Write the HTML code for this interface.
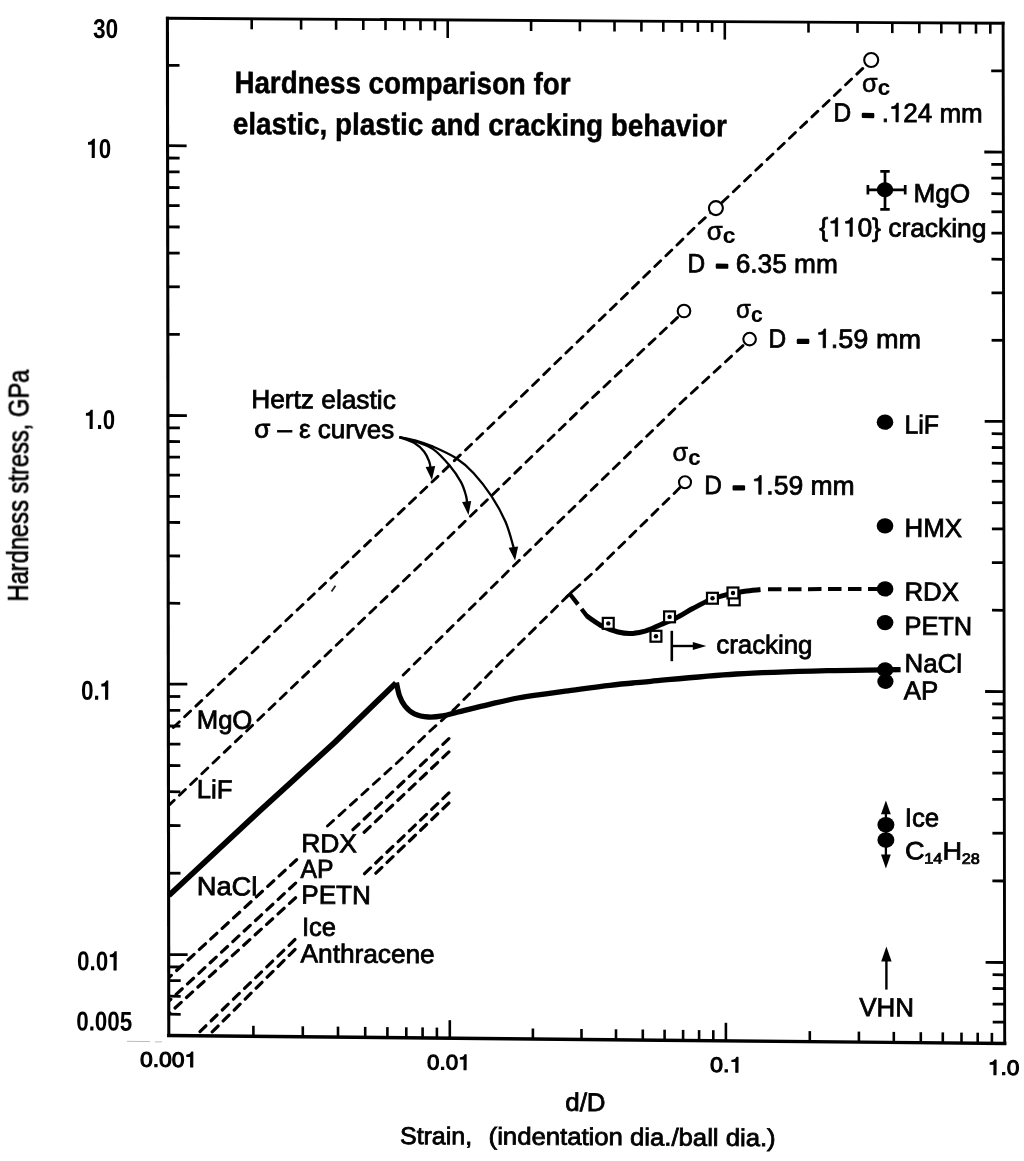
<!DOCTYPE html>
<html lang="en">
<head>
<meta charset="utf-8">
<title>Hardness comparison for elastic, plastic and cracking behavior</title>
<style>
html,body{margin:0;padding:0;background:#fff;}
body{width:1024px;height:1161px;overflow:hidden;font-family:"Liberation Sans",sans-serif;}
svg{display:block;}
</style>
</head>
<body>
<svg width="1024" height="1161" viewBox="0 0 1024 1161">
<defs><filter id="scan" x="0" y="0" width="1024" height="1161" filterUnits="userSpaceOnUse"><feGaussianBlur stdDeviation="0.62"/></filter></defs>
<rect width="1024" height="1161" fill="#fff"/>
<g filter="url(#scan)">
<g stroke="#000" fill="none" stroke-linecap="butt">
<g stroke-linecap="square">
<line x1="167.4" y1="18.3" x2="168.8" y2="1035.5" stroke-width="3.1" />
<line x1="168.8" y1="1035.5" x2="1004.7" y2="1043.5" stroke-width="3.4" />
<line x1="167.4" y1="18.3" x2="1003.1" y2="23.3" stroke-width="2.9" />
<line x1="1003.1" y1="23.3" x2="1004.7" y2="1043.5" stroke-width="2.9" />
</g>
<line x1="167.6" y1="145.7" x2="186.6" y2="145.8" stroke-width="2.8" />
<line x1="1003.3" y1="152.1" x2="984.3" y2="152.0" stroke-width="2.8" />
<line x1="167.5" y1="65.3" x2="179.5" y2="65.4" stroke-width="2.8" />
<line x1="1003.2" y1="70.9" x2="991.2" y2="70.8" stroke-width="2.8" />
<line x1="167.9" y1="415.5" x2="186.9" y2="415.6" stroke-width="2.8" />
<line x1="1003.7" y1="421.4" x2="984.7" y2="421.3" stroke-width="2.8" />
<line x1="167.8" y1="334.3" x2="179.8" y2="334.4" stroke-width="2.8" />
<line x1="1003.6" y1="340.3" x2="991.6" y2="340.3" stroke-width="2.8" />
<line x1="167.8" y1="286.8" x2="179.8" y2="286.8" stroke-width="2.8" />
<line x1="1003.5" y1="292.9" x2="991.5" y2="292.8" stroke-width="2.8" />
<line x1="167.7" y1="253.1" x2="179.7" y2="253.1" stroke-width="2.8" />
<line x1="1003.5" y1="259.3" x2="991.5" y2="259.2" stroke-width="2.8" />
<line x1="167.7" y1="226.9" x2="179.7" y2="227.0" stroke-width="2.8" />
<line x1="1003.4" y1="233.2" x2="991.4" y2="233.1" stroke-width="2.8" />
<line x1="167.6" y1="205.6" x2="179.6" y2="205.6" stroke-width="2.8" />
<line x1="1003.4" y1="211.8" x2="991.4" y2="211.8" stroke-width="2.8" />
<line x1="167.6" y1="187.5" x2="179.6" y2="187.6" stroke-width="2.8" />
<line x1="1003.4" y1="193.8" x2="991.4" y2="193.7" stroke-width="2.8" />
<line x1="167.6" y1="171.8" x2="179.6" y2="171.9" stroke-width="2.8" />
<line x1="1003.3" y1="178.2" x2="991.3" y2="178.1" stroke-width="2.8" />
<line x1="167.6" y1="158.0" x2="179.6" y2="158.1" stroke-width="2.8" />
<line x1="1003.3" y1="164.4" x2="991.3" y2="164.4" stroke-width="2.8" />
<line x1="168.3" y1="684.1" x2="187.3" y2="684.2" stroke-width="2.8" />
<line x1="1004.1" y1="691.6" x2="985.1" y2="691.5" stroke-width="2.8" />
<line x1="168.2" y1="603.2" x2="180.2" y2="603.3" stroke-width="2.8" />
<line x1="1004.0" y1="610.3" x2="992.0" y2="610.2" stroke-width="2.8" />
<line x1="168.1" y1="555.9" x2="180.1" y2="556.0" stroke-width="2.8" />
<line x1="1003.9" y1="562.7" x2="991.9" y2="562.6" stroke-width="2.8" />
<line x1="168.1" y1="522.4" x2="180.1" y2="522.5" stroke-width="2.8" />
<line x1="1003.9" y1="528.9" x2="991.9" y2="528.9" stroke-width="2.8" />
<line x1="168.0" y1="496.4" x2="180.0" y2="496.4" stroke-width="2.8" />
<line x1="1003.9" y1="502.7" x2="991.9" y2="502.7" stroke-width="2.8" />
<line x1="168.0" y1="475.1" x2="180.0" y2="475.2" stroke-width="2.8" />
<line x1="1003.8" y1="481.3" x2="991.8" y2="481.3" stroke-width="2.8" />
<line x1="168.0" y1="457.1" x2="180.0" y2="457.2" stroke-width="2.8" />
<line x1="1003.8" y1="463.3" x2="991.8" y2="463.2" stroke-width="2.8" />
<line x1="168.0" y1="441.5" x2="180.0" y2="441.6" stroke-width="2.8" />
<line x1="1003.8" y1="447.6" x2="991.8" y2="447.5" stroke-width="2.8" />
<line x1="167.9" y1="427.8" x2="179.9" y2="427.9" stroke-width="2.8" />
<line x1="1003.7" y1="433.8" x2="991.7" y2="433.7" stroke-width="2.8" />
<line x1="168.6" y1="954.6" x2="187.6" y2="954.7" stroke-width="2.8" />
<line x1="1004.6" y1="962.5" x2="985.6" y2="962.4" stroke-width="2.8" />
<line x1="168.5" y1="873.2" x2="180.5" y2="873.2" stroke-width="2.8" />
<line x1="1004.4" y1="881.0" x2="992.4" y2="880.9" stroke-width="2.8" />
<line x1="168.5" y1="825.5" x2="180.5" y2="825.6" stroke-width="2.8" />
<line x1="1004.4" y1="833.2" x2="992.4" y2="833.2" stroke-width="2.8" />
<line x1="168.4" y1="791.7" x2="180.4" y2="791.8" stroke-width="2.8" />
<line x1="1004.3" y1="799.4" x2="992.3" y2="799.3" stroke-width="2.8" />
<line x1="168.4" y1="765.5" x2="180.4" y2="765.6" stroke-width="2.8" />
<line x1="1004.3" y1="773.1" x2="992.3" y2="773.1" stroke-width="2.8" />
<line x1="168.4" y1="744.1" x2="180.4" y2="744.2" stroke-width="2.8" />
<line x1="1004.2" y1="751.7" x2="992.2" y2="751.6" stroke-width="2.8" />
<line x1="168.3" y1="726.0" x2="180.3" y2="726.1" stroke-width="2.8" />
<line x1="1004.2" y1="733.6" x2="992.2" y2="733.5" stroke-width="2.8" />
<line x1="168.3" y1="710.3" x2="180.3" y2="710.4" stroke-width="2.8" />
<line x1="1004.2" y1="717.9" x2="992.2" y2="717.8" stroke-width="2.8" />
<line x1="168.3" y1="696.5" x2="180.3" y2="696.5" stroke-width="2.8" />
<line x1="1004.2" y1="704.0" x2="992.2" y2="703.9" stroke-width="2.8" />
<line x1="168.7" y1="1014.2" x2="180.7" y2="1014.3" stroke-width="2.8" />
<line x1="1004.7" y1="1022.2" x2="992.7" y2="1022.1" stroke-width="2.8" />
<line x1="168.7" y1="996.2" x2="180.7" y2="996.3" stroke-width="2.8" />
<line x1="1004.6" y1="1004.2" x2="992.6" y2="1004.1" stroke-width="2.8" />
<line x1="168.7" y1="980.6" x2="180.7" y2="980.7" stroke-width="2.8" />
<line x1="1004.6" y1="988.6" x2="992.6" y2="988.5" stroke-width="2.8" />
<line x1="168.7" y1="966.9" x2="180.7" y2="967.0" stroke-width="2.8" />
<line x1="1004.6" y1="974.8" x2="992.6" y2="974.7" stroke-width="2.8" />
<line x1="251.7" y1="18.8" x2="251.7" y2="29.3" stroke-width="2.6" />
<line x1="253.4" y1="1036.3" x2="253.4" y2="1025.8" stroke-width="2.6" />
<line x1="301.1" y1="19.1" x2="301.1" y2="29.6" stroke-width="2.6" />
<line x1="302.8" y1="1036.8" x2="302.8" y2="1026.3" stroke-width="2.6" />
<line x1="336.1" y1="19.3" x2="336.1" y2="29.8" stroke-width="2.6" />
<line x1="338.0" y1="1037.1" x2="338.0" y2="1026.6" stroke-width="2.6" />
<line x1="363.3" y1="19.5" x2="363.3" y2="30.0" stroke-width="2.6" />
<line x1="365.2" y1="1037.4" x2="365.2" y2="1026.9" stroke-width="2.6" />
<line x1="385.5" y1="19.6" x2="385.5" y2="30.1" stroke-width="2.6" />
<line x1="387.4" y1="1037.6" x2="387.4" y2="1027.1" stroke-width="2.6" />
<line x1="404.3" y1="19.7" x2="404.3" y2="30.2" stroke-width="2.6" />
<line x1="406.3" y1="1037.8" x2="406.3" y2="1027.3" stroke-width="2.6" />
<line x1="420.5" y1="19.8" x2="420.5" y2="30.3" stroke-width="2.6" />
<line x1="422.6" y1="1037.9" x2="422.6" y2="1027.4" stroke-width="2.6" />
<line x1="434.9" y1="19.9" x2="434.9" y2="30.4" stroke-width="2.6" />
<line x1="436.9" y1="1038.1" x2="436.9" y2="1027.6" stroke-width="2.6" />
<line x1="447.7" y1="20.0" x2="447.7" y2="38.0" stroke-width="2.6" />
<line x1="449.8" y1="1038.2" x2="449.8" y2="1020.2" stroke-width="2.6" />
<line x1="531.1" y1="20.5" x2="531.1" y2="31.0" stroke-width="2.6" />
<line x1="532.9" y1="1039.0" x2="532.9" y2="1028.5" stroke-width="2.6" />
<line x1="579.9" y1="20.8" x2="579.9" y2="31.3" stroke-width="2.6" />
<line x1="581.5" y1="1039.5" x2="581.5" y2="1029.0" stroke-width="2.6" />
<line x1="614.5" y1="21.0" x2="614.5" y2="31.5" stroke-width="2.6" />
<line x1="616.0" y1="1039.8" x2="616.0" y2="1029.3" stroke-width="2.6" />
<line x1="641.4" y1="21.1" x2="641.4" y2="31.6" stroke-width="2.6" />
<line x1="642.8" y1="1040.0" x2="642.8" y2="1029.5" stroke-width="2.6" />
<line x1="663.3" y1="21.3" x2="663.3" y2="31.8" stroke-width="2.6" />
<line x1="664.6" y1="1040.2" x2="664.6" y2="1029.7" stroke-width="2.6" />
<line x1="681.9" y1="21.4" x2="681.9" y2="31.9" stroke-width="2.6" />
<line x1="683.1" y1="1040.4" x2="683.1" y2="1029.9" stroke-width="2.6" />
<line x1="697.9" y1="21.5" x2="697.9" y2="32.0" stroke-width="2.6" />
<line x1="699.1" y1="1040.6" x2="699.1" y2="1030.1" stroke-width="2.6" />
<line x1="712.1" y1="21.6" x2="712.1" y2="32.1" stroke-width="2.6" />
<line x1="713.3" y1="1040.7" x2="713.3" y2="1030.2" stroke-width="2.6" />
<line x1="724.8" y1="21.6" x2="724.8" y2="39.6" stroke-width="2.6" />
<line x1="725.9" y1="1040.8" x2="725.9" y2="1022.8" stroke-width="2.6" />
<line x1="808.5" y1="22.1" x2="808.5" y2="32.6" stroke-width="2.6" />
<line x1="809.8" y1="1041.6" x2="809.8" y2="1031.1" stroke-width="2.6" />
<line x1="857.5" y1="22.4" x2="857.5" y2="32.9" stroke-width="2.6" />
<line x1="858.9" y1="1042.1" x2="858.9" y2="1031.6" stroke-width="2.6" />
<line x1="892.3" y1="22.6" x2="892.3" y2="33.1" stroke-width="2.6" />
<line x1="893.8" y1="1042.4" x2="893.8" y2="1031.9" stroke-width="2.6" />
<line x1="919.3" y1="22.8" x2="919.3" y2="33.3" stroke-width="2.6" />
<line x1="920.8" y1="1042.7" x2="920.8" y2="1032.2" stroke-width="2.6" />
<line x1="941.3" y1="22.9" x2="941.3" y2="33.4" stroke-width="2.6" />
<line x1="942.8" y1="1042.9" x2="942.8" y2="1032.4" stroke-width="2.6" />
<line x1="959.9" y1="23.0" x2="959.9" y2="33.5" stroke-width="2.6" />
<line x1="961.5" y1="1043.1" x2="961.5" y2="1032.6" stroke-width="2.6" />
<line x1="976.0" y1="23.1" x2="976.0" y2="33.6" stroke-width="2.6" />
<line x1="977.7" y1="1043.2" x2="977.7" y2="1032.7" stroke-width="2.6" />
<line x1="990.3" y1="23.2" x2="990.3" y2="33.7" stroke-width="2.6" />
<line x1="991.9" y1="1043.4" x2="991.9" y2="1032.9" stroke-width="2.6" />
</g>
<clipPath id="plot"><path d="M167.4,18.3 L1003.1,23.3 L1004.7,1043.5 L168.75,1035.5 Z"/></clipPath>
<g stroke="#000" fill="none" stroke-width="2.75" stroke-dasharray="8.3 7.2" stroke-linecap="round" clip-path="url(#plot)">
<path d="M862.8,68.4 L722.5,202.0 L700.0,222.5 L517.6,400.0 L430.0,484.0 L300.1,607.2 L169.3,731.3" stroke-width="2.85" stroke-linejoin="round"/>
<path d="M677.6,317.4 L589.8,400.3 L430.0,555.5 L373.0,610.0 L169.3,804.9" stroke-width="2.85" stroke-linejoin="round"/>
<path d="M743.0,345.6 L683.6,400.3 L509.1,570.3 L430.0,648.4 L398.9,679.3" stroke-width="2.85" stroke-linejoin="round"/>
<path d="M680.0,487.6 L596.1,570.0 L569.7,594.0 L500.3,662.5 L454.6,708.9 L430.0,731.0 L400.3,759.8 L325.9,827.4" stroke-width="2.85" stroke-linejoin="round"/>
<path d="M296.6,859.7 L168.9,977.6" stroke-width="3.2" stroke-linejoin="round"/>
<path d="M448.9,738.6 L352.3,830.3" stroke-width="3.2" stroke-linejoin="round"/>
<path d="M295.6,883.1 L168.9,1001.2" stroke-width="3.2" stroke-linejoin="round"/>
<path d="M448.9,751.9 L362.1,834.2" stroke-width="3.2" stroke-linejoin="round"/>
<path d="M295.6,897.8 L168.9,1013.6" stroke-width="3.2" stroke-linejoin="round"/>
<path d="M448.9,792.9 L363.0,875.2" stroke-width="3.2" stroke-linejoin="round"/>
<path d="M295.0,939.5 L195.5,1035.9" stroke-width="3.2" stroke-linejoin="round"/>
<path d="M448.9,803.0 L373.8,875.2" stroke-width="3.2" stroke-linejoin="round"/>
<path d="M295.0,949.5 L208.2,1035.9" stroke-width="3.2" stroke-linejoin="round"/>
</g>
<g stroke="#000" fill="#fff" stroke-width="2.1">
<circle cx="871.2" cy="60.0" r="7.0"/>
<circle cx="715.9" cy="208.1" r="7.0"/>
<circle cx="684.0" cy="311.0" r="6.3"/>
<circle cx="749.6" cy="339.1" r="6.3"/>
<circle cx="685.0" cy="482.2" r="6.0"/>
</g>
<g stroke="#000" fill="none" stroke-linecap="butt" stroke-linejoin="miter">
<path d="M168.9,895.5 L260,810.6 L300,774.2 L335,742.1 L396,683.0" stroke-width="5.7" stroke-linejoin="round"/>
<path d="M396.4,682.6 C396.9,684.8 398.1,692.0 399.5,695.9 C400.9,699.8 402.5,703.1 405.0,706.1 C407.5,709.1 410.5,712.1 414.4,713.9 C418.3,715.7 423.7,716.7 428.4,717.0 C433.1,717.3 437.6,716.7 442.5,715.9 C447.4,715.1 450.3,713.9 458.1,712.0 C465.9,710.1 479.4,706.6 489.4,704.3 C499.4,702.0 509.5,699.6 517.9,698.0 C526.3,696.4 532.1,695.7 540.0,694.6 C547.9,693.5 553.7,692.8 565.4,691.2 C577.1,689.7 595.8,686.9 610.0,685.3 C624.2,683.6 629.9,683.2 650.9,681.3 C671.9,679.4 706.4,675.8 736.3,674.0 C766.1,672.2 802.6,671.3 830.0,670.6 C857.4,669.9 888.8,669.8 900.6,669.6" stroke-width="5.3"/>
<path d="M587.0,616.2 C589.7,617.9 597.8,624.0 603.0,626.6 C608.2,629.2 613.4,630.9 618.0,632.0 C622.6,633.1 626.2,633.7 630.9,633.5 C635.5,633.3 640.9,632.4 645.9,630.9 C650.9,629.4 656.0,626.6 661.0,624.5 C666.0,622.4 670.6,620.7 676.0,618.0 C681.4,615.3 687.5,611.3 693.2,608.3 C698.9,605.2 704.7,602.0 710.4,599.7 C716.1,597.4 721.9,595.8 727.6,594.4 C733.3,593.0 739.3,592.0 744.8,591.2 C750.3,590.4 757.9,589.9 760.5,589.6" stroke-width="5.0"/>
<path d="M569.9,594.0 L587.4,616.6" stroke-width="4.3" stroke-dasharray="13.2 5.8 30"/>
<path d="M565.6,597.9 L573.2,590.6" stroke-width="2.8"/>
<path d="M768,589.2 L878,589.0" stroke-width="4.0" stroke-dasharray="13.5 6.5"/>
</g>
<g stroke="#000" fill="#fff" stroke-width="2.2">
<rect x="728.8" y="594.4" width="10.9" height="10.9"/>
<rect x="602.8" y="617.9" width="10.9" height="10.9"/>
<rect x="664.1" y="611.4" width="10.9" height="10.9"/>
<rect x="650.5" y="630.8" width="10.9" height="10.9"/>
<rect x="707.0" y="592.8" width="10.9" height="10.9"/>
<rect x="727.5" y="587.5" width="10.9" height="10.9"/>
</g>
<g fill="#000">
<circle cx="608.3" cy="623.4" r="2.2"/>
<circle cx="669.6" cy="616.9" r="2.2"/>
<circle cx="656.0" cy="636.3" r="2.2"/>
<circle cx="712.5" cy="598.2" r="2.2"/>
<circle cx="733.0" cy="593.0" r="2.2"/>
</g>
<g fill="#000">
<ellipse cx="885.0" cy="189.8" rx="8.2" ry="7.5"/>
<ellipse cx="885.0" cy="422.2" rx="8.3" ry="7.6"/>
<ellipse cx="885.0" cy="525.9" rx="8.3" ry="7.6"/>
<ellipse cx="885.1" cy="588.9" rx="8.3" ry="7.6"/>
<ellipse cx="885.1" cy="622.6" rx="8.3" ry="7.6"/>
<ellipse cx="885.2" cy="669.7" rx="8.1" ry="7.4"/>
<ellipse cx="885.4" cy="681.6" rx="8.1" ry="7.4"/>
<ellipse cx="885.9" cy="824.8" rx="8.5" ry="7.8"/>
<ellipse cx="885.9" cy="840.0" rx="8.5" ry="7.8"/>
<path d="M885.9,800.6 L890.8,814.2 L881.0,814.2 Z"/>
<path d="M885.9,868.5 L890.8,854.6 L881.0,854.6 Z"/>
<path d="M886.4,946.6 L891.6,961.6 L881.2,961.6 Z"/>
<path d="M706.3,645.9 L692.8,641.9 L692.8,649.9 Z"/>
<path d="M431.9,480.0 L425.6,467.0 L435.2,466.0 Z"/>
<path d="M468.5,515.0 L462.1,502.1 L471.2,500.9 Z"/>
<path d="M515.1,560.6 L508.6,547.7 L518.1,546.5 Z"/>
</g>
<g stroke="#000" fill="none" stroke-width="1.9">
<path d="M885.9,812 L885.9,857" stroke-width="2.3"/>
<path d="M886.4,960 L886.4,989.6" stroke-width="2.4"/>
<path d="M671.8,630.8 L671.8,661.2" stroke-width="2.6"/>
<path d="M671.8,646 L694,646" stroke-width="2.4"/>
<path d="M867.9,189.8 L905.2,189.8 M867.9,185.0 L867.9,194.6 M905.2,185.0 L905.2,194.6" stroke-width="2.7"/>
<path d="M885.0,171.3 L885.0,209.3 M880.3,171.3 L889.7,171.3 M880.3,209.3 L889.7,209.3" stroke-width="2.7"/>
<path d="M399.4,437.1 C401.8,438.1 409.9,440.4 414.0,442.8 C418.1,445.2 421.6,448.5 424.2,451.7 C426.8,454.9 428.2,458.9 429.3,461.8 C430.4,464.7 430.4,467.8 430.6,469.0" stroke-width="2.3"/>
<path d="M399.4,437.1 C402.0,437.8 409.4,439.3 415.0,441.3 C420.6,443.3 427.3,445.1 433.1,449.1 C438.9,453.2 445.0,460.1 449.6,465.6 C454.2,471.1 458.2,477.0 461.0,482.1 C463.8,487.2 465.1,492.5 466.1,496.1 C467.1,499.8 467.0,502.7 467.2,504.0" stroke-width="2.3"/>
<path d="M399.4,437.1 C402.0,437.6 409.4,438.7 415.0,440.3 C420.6,441.9 426.3,443.7 433.1,446.6 C439.9,449.6 449.1,453.6 455.9,458.0 C462.7,462.4 467.8,466.8 473.7,473.2 C479.6,479.6 486.2,488.1 491.5,496.1 C496.8,504.2 501.8,513.2 505.4,521.5 C509.0,529.8 511.7,540.9 513.1,545.6 C514.5,550.4 513.7,549.3 513.8,550.0" stroke-width="2.3"/>
</g>
<path d="M331.5,591.5 L335.5,585.8" stroke="#222" stroke-width="1.8" fill="none"/>
<path d="M127,1041.3 L150,1041.6 M155,1042 L162,1041.8" stroke="#bbb" stroke-width="1" fill="none"/>
<g fill="#000" font-family="'Liberation Sans', sans-serif" style="white-space:pre">
<text x="234.4" y="92.9" font-size="30.8" font-weight="bold" textLength="336.1" lengthAdjust="spacingAndGlyphs" transform="rotate(0.26 234.4 92.9)" stroke="#000" stroke-width="0.5" >Hardness comparison for</text>
<text x="232.7" y="134.1" font-size="30.8" font-weight="bold" textLength="494.2" lengthAdjust="spacingAndGlyphs" transform="rotate(0.26 232.7 134.1)" stroke="#000" stroke-width="0.5" >elastic, plastic and cracking behavior</text>
<text x="93.0" y="38.0" font-size="27.2" font-weight="bold" textLength="25.2" lengthAdjust="spacingAndGlyphs" transform="rotate(0.35 93.0 38.0)" >30</text>
<g transform="rotate(0.35 86.4 158.0)">
<path d="M378,0 L238,0 L238,492 L69,492 L69,591 C190,593 262,640 282,709 L378,709 Z" transform="translate(86.40 158.0) scale(0.02221 -0.02720)"/>
<text x="98.75" y="158.0" font-size="27.2" font-weight="bold" textLength="12.35" lengthAdjust="spacingAndGlyphs">0</text>
</g>
<g transform="rotate(0.35 84.3 429.0)">
<path d="M378,0 L238,0 L238,492 L69,492 L69,591 C190,593 262,640 282,709 L378,709 Z" transform="translate(84.30 429.0) scale(0.02216 -0.02720)"/>
<text x="96.62" y="429.0" font-size="27.2" font-weight="bold" textLength="18.48" lengthAdjust="spacingAndGlyphs">.0</text>
</g>
<g transform="rotate(0.35 80.9 699.7)">
<text x="80.90" y="699.7" font-size="27.2" font-weight="bold" textLength="18.78" lengthAdjust="spacingAndGlyphs">0.</text>
<path d="M378,0 L238,0 L238,492 L69,492 L69,591 C190,593 262,640 282,709 L378,709 Z" transform="translate(99.68 699.7) scale(0.02252 -0.02720)"/>
</g>
<g transform="rotate(0.35 77.1 970.3)">
<text x="77.10" y="970.3" font-size="27.2" font-weight="bold" textLength="31.07" lengthAdjust="spacingAndGlyphs">0.0</text>
<path d="M378,0 L238,0 L238,492 L69,492 L69,591 C190,593 262,640 282,709 L378,709 Z" transform="translate(108.17 970.3) scale(0.02235 -0.02720)"/>
</g>
<text x="76.2" y="1030.4" font-size="27.2" font-weight="bold" textLength="56.0" lengthAdjust="spacingAndGlyphs" transform="rotate(0.35 76.2 1030.4)" >0.005</text>
<g transform="rotate(0.35 140.0 1066.7)">
<text x="140.00" y="1066.7" font-size="21" font-weight="normal" textLength="44.49" lengthAdjust="spacingAndGlyphs" stroke="#000" stroke-width="1.05">0.00</text>
<path d="M359,0 L271,0 L271,505 L101,505 L101,568 C200,572 285,620 301,709 L359,709 Z" transform="translate(184.49 1066.7) scale(0.02286 -0.02100)" stroke="#000" stroke-width="50" stroke-linejoin="round"/>
</g>
<g transform="rotate(0.35 427.1 1069.5)">
<text x="427.10" y="1069.5" font-size="21" font-weight="normal" textLength="30.93" lengthAdjust="spacingAndGlyphs" stroke="#000" stroke-width="1.05">0.0</text>
<path d="M359,0 L271,0 L271,505 L101,505 L101,568 C200,572 285,620 301,709 L359,709 Z" transform="translate(458.03 1069.5) scale(0.02225 -0.02100)" stroke="#000" stroke-width="50" stroke-linejoin="round"/>
</g>
<g transform="rotate(0.35 710.1 1072.0)">
<text x="710.10" y="1072.0" font-size="21" font-weight="normal" textLength="19.44" lengthAdjust="spacingAndGlyphs" stroke="#000" stroke-width="1.05">0.</text>
<path d="M359,0 L271,0 L271,505 L101,505 L101,568 C200,572 285,620 301,709 L359,709 Z" transform="translate(729.54 1072.0) scale(0.02331 -0.02100)" stroke="#000" stroke-width="50" stroke-linejoin="round"/>
</g>
<g transform="rotate(0.35 987.8 1074.8)">
<path d="M359,0 L271,0 L271,505 L101,505 L101,568 C200,572 285,620 301,709 L359,709 Z" transform="translate(987.80 1074.8) scale(0.02273 -0.02100)" stroke="#000" stroke-width="50" stroke-linejoin="round"/>
<text x="1000.44" y="1074.8" font-size="21" font-weight="normal" textLength="18.96" lengthAdjust="spacingAndGlyphs" stroke="#000" stroke-width="1.05">.0</text>
</g>
<text x="565.3" y="1110.8" font-size="25.5" font-weight="normal" textLength="40.2" lengthAdjust="spacingAndGlyphs" transform="rotate(0.35 565.3 1110.8)" stroke="#000" stroke-width="0.8" >d/D</text>
<text x="400.0" y="1144.0" font-size="24.3" font-weight="normal" textLength="72.1" lengthAdjust="spacingAndGlyphs" transform="rotate(0.35 400.0 1144.0)" stroke="#000" stroke-width="0.8" >Strain,</text>
<text x="488.6" y="1144.4" font-size="24.3" font-weight="normal" textLength="287.1" lengthAdjust="spacingAndGlyphs" transform="rotate(0.35 488.6 1144.4)" stroke="#000" stroke-width="0.8" >(indentation dia./ball dia.)</text>
<text x="0" y="0" font-size="29.5" textLength="232" lengthAdjust="spacingAndGlyphs" stroke="#000" stroke-width="0.7" transform="translate(27.9 601.6) rotate(-89.8)">Hardness stress, GPa</text>
<text x="251.2" y="407.9" font-size="26" font-weight="normal" textLength="144.6" lengthAdjust="spacingAndGlyphs" transform="rotate(0.35 251.2 407.9)" stroke="#000" stroke-width="0.8" >Hertz elastic</text>
<text x="254.3" y="437.6" font-size="26" font-weight="normal" textLength="139.9" lengthAdjust="spacingAndGlyphs" transform="rotate(0.35 254.3 437.6)" stroke="#000" stroke-width="0.8" >σ – ε curves</text>
<text x="196.8" y="728.5" font-size="26" font-weight="normal" textLength="55.5" lengthAdjust="spacingAndGlyphs" transform="rotate(0.35 196.8 728.5)" stroke="#000" stroke-width="0.8" >MgO</text>
<text x="196.8" y="798.1" font-size="26" font-weight="normal" textLength="35.6" lengthAdjust="spacingAndGlyphs" transform="rotate(0.35 196.8 798.1)" stroke="#000" stroke-width="0.8" >LiF</text>
<text x="196.8" y="895.0" font-size="26" font-weight="normal" textLength="60.5" lengthAdjust="spacingAndGlyphs" transform="rotate(0.35 196.8 895.0)" stroke="#000" stroke-width="0.8" >NaCl</text>
<text x="301.2" y="852.1" font-size="26" font-weight="normal" textLength="55.7" lengthAdjust="spacingAndGlyphs" transform="rotate(0.35 301.2 852.1)" stroke="#000" stroke-width="0.8" >RDX</text>
<text x="300.6" y="877.7" font-size="26" font-weight="normal" textLength="32.9" lengthAdjust="spacingAndGlyphs" transform="rotate(0.35 300.6 877.7)" stroke="#000" stroke-width="0.8" >AP</text>
<text x="301.3" y="903.6" font-size="26" font-weight="normal" textLength="69.4" lengthAdjust="spacingAndGlyphs" transform="rotate(0.35 301.3 903.6)" stroke="#000" stroke-width="0.8" >PETN</text>
<text x="302.0" y="935.7" font-size="26" font-weight="normal" textLength="33.9" lengthAdjust="spacingAndGlyphs" transform="rotate(0.35 302.0 935.7)" stroke="#000" stroke-width="0.8" >Ice</text>
<text x="300.6" y="962.3" font-size="26" font-weight="normal" textLength="134.1" lengthAdjust="spacingAndGlyphs" transform="rotate(0.35 300.6 962.3)" stroke="#000" stroke-width="0.8" >Anthracene</text>
<text x="904.5" y="433.5" font-size="26" font-weight="normal" textLength="34.5" lengthAdjust="spacingAndGlyphs" transform="rotate(0.35 904.5 433.5)" stroke="#000" stroke-width="0.8" >LiF</text>
<text x="904.5" y="536.7" font-size="26" font-weight="normal" textLength="57.4" lengthAdjust="spacingAndGlyphs" transform="rotate(0.35 904.5 536.7)" stroke="#000" stroke-width="0.8" >HMX</text>
<text x="904.5" y="600.5" font-size="26" font-weight="normal" textLength="54.3" lengthAdjust="spacingAndGlyphs" transform="rotate(0.35 904.5 600.5)" stroke="#000" stroke-width="0.8" >RDX</text>
<text x="904.5" y="634.7" font-size="26" font-weight="normal" textLength="67.5" lengthAdjust="spacingAndGlyphs" transform="rotate(0.35 904.5 634.7)" stroke="#000" stroke-width="0.8" >PETN</text>
<text x="904.5" y="672.1" font-size="26" font-weight="normal" textLength="57.4" lengthAdjust="spacingAndGlyphs" transform="rotate(0.35 904.5 672.1)" stroke="#000" stroke-width="0.8" >NaCl</text>
<text x="903.7" y="699.3" font-size="26" font-weight="normal" textLength="34.4" lengthAdjust="spacingAndGlyphs" transform="rotate(0.35 903.7 699.3)" stroke="#000" stroke-width="0.8" >AP</text>
<text x="904.8" y="826.4" font-size="26" font-weight="normal" textLength="34.2" lengthAdjust="spacingAndGlyphs" transform="rotate(0.35 904.8 826.4)" stroke="#000" stroke-width="0.8" >Ice</text>
<text x="859.3" y="1016.1" font-size="26" font-weight="normal" textLength="54.6" lengthAdjust="spacingAndGlyphs" transform="rotate(0.35 859.3 1016.1)" stroke="#000" stroke-width="0.8" >VHN</text>
<text x="716.3" y="653.2" font-size="26" font-weight="normal" textLength="96.2" lengthAdjust="spacingAndGlyphs" transform="rotate(0.35 716.3 653.2)" stroke="#000" stroke-width="0.8" >cracking</text>
<text x="913.4" y="202.1" font-size="26" font-weight="normal" textLength="56.6" lengthAdjust="spacingAndGlyphs" transform="rotate(0.35 913.4 202.1)" stroke="#000" stroke-width="0.8" >MgO</text>
<g transform="rotate(0.35 819.3 236.1)">
<text x="819.30" y="236.1" font-size="26" font-weight="normal" textLength="8.81" lengthAdjust="spacingAndGlyphs" stroke="#000" stroke-width="0.8">{</text>
<path d="M359,0 L271,0 L271,505 L101,505 L101,568 C200,572 285,620 301,709 L359,709 Z" transform="translate(828.11 236.1) scale(0.02637 -0.02600)" stroke="#000" stroke-width="31" stroke-linejoin="round"/>
<path d="M359,0 L271,0 L271,505 L101,505 L101,568 C200,572 285,620 301,709 L359,709 Z" transform="translate(842.78 236.1) scale(0.02637 -0.02600)" stroke="#000" stroke-width="31" stroke-linejoin="round"/>
<text x="857.44" y="236.1" font-size="26" font-weight="normal" textLength="129.01" lengthAdjust="spacingAndGlyphs" stroke="#000" stroke-width="0.8">0} cracking</text>
</g>
<text x="904.9" y="859.2" font-size="25" textLength="75.0" lengthAdjust="spacingAndGlyphs" stroke="#000" stroke-width="0.8" transform="rotate(0.35 904.9 859.2)">C<tspan font-size="15" dy="4.2" stroke-width="0.8">14</tspan><tspan dy="-4.2">H</tspan><tspan font-size="15" dy="4.2" stroke-width="0.8">28</tspan></text>
<text x="862.1" y="91.6" font-size="25.5" textLength="28.0" lengthAdjust="spacingAndGlyphs" stroke="#000" stroke-width="0.6">σ<tspan font-size="22.5" dy="3.6" font-weight="bold" stroke-width="0.15">c</tspan></text>
<text x="706.8" y="239.8" font-size="25.5" textLength="28.7" lengthAdjust="spacingAndGlyphs" stroke="#000" stroke-width="0.6">σ<tspan font-size="22.5" dy="3.6" font-weight="bold" stroke-width="0.15">c</tspan></text>
<text x="736.1" y="318.2" font-size="25.5" textLength="26.6" lengthAdjust="spacingAndGlyphs" stroke="#000" stroke-width="0.6">σ<tspan font-size="22.5" dy="3.6" font-weight="bold" stroke-width="0.15">c</tspan></text>
<text x="672.6" y="461.3" font-size="25.5" textLength="27.9" lengthAdjust="spacingAndGlyphs" stroke="#000" stroke-width="0.6">σ<tspan font-size="22.5" dy="3.6" font-weight="bold" stroke-width="0.15">c</tspan></text>
<text x="833.4" y="121.5" font-size="26.5" font-weight="normal" textLength="17.6" lengthAdjust="spacingAndGlyphs" transform="rotate(0.35 833.4 121.5)" stroke="#000" stroke-width="0.8" >D</text>
<rect x="861.7" y="112.7" width="12.6" height="5.2" rx="1.2" transform="rotate(0.35 835.1 121.5)"/>
<g transform="rotate(0.35 881.7 121.8)">
<text x="881.70" y="121.8" font-size="26.5" font-weight="normal" textLength="7.21" lengthAdjust="spacingAndGlyphs" stroke="#000" stroke-width="0.8">.</text>
<path d="M359,0 L271,0 L271,505 L101,505 L101,568 C200,572 285,620 301,709 L359,709 Z" transform="translate(888.91 121.8) scale(0.02594 -0.02650)" stroke="#000" stroke-width="30" stroke-linejoin="round"/>
<text x="903.33" y="121.8" font-size="26.5" font-weight="normal" textLength="79.27" lengthAdjust="spacingAndGlyphs" stroke="#000" stroke-width="0.8">24 mm</text>
</g>
<text x="687.4" y="272.2" font-size="26.5" font-weight="normal" textLength="17.6" lengthAdjust="spacingAndGlyphs" transform="rotate(0.35 687.4 272.2)" stroke="#000" stroke-width="0.8" >D</text>
<rect x="715.7" y="263.4" width="12.6" height="5.2" rx="1.2" transform="rotate(0.35 689.1 272.2)"/>
<text x="735.7" y="272.5" font-size="26.5" font-weight="normal" textLength="102.1" lengthAdjust="spacingAndGlyphs" transform="rotate(0.35 735.7 272.5)" stroke="#000" stroke-width="0.8" >6.35 mm</text>
<text x="768.4" y="347.4" font-size="26.5" font-weight="normal" textLength="17.6" lengthAdjust="spacingAndGlyphs" transform="rotate(0.35 768.4 347.4)" stroke="#000" stroke-width="0.8" >D</text>
<rect x="796.7" y="338.6" width="12.6" height="5.2" rx="1.2" transform="rotate(0.35 770.1 347.4)"/>
<g transform="rotate(0.35 815.8 347.7)">
<path d="M359,0 L271,0 L271,505 L101,505 L101,568 C200,572 285,620 301,709 L359,709 Z" transform="translate(815.80 347.7) scale(0.02702 -0.02650)" stroke="#000" stroke-width="30" stroke-linejoin="round"/>
<text x="830.83" y="347.7" font-size="26.5" font-weight="normal" textLength="90.07" lengthAdjust="spacingAndGlyphs" stroke="#000" stroke-width="0.8">.59 mm</text>
</g>
<text x="704.2" y="493.9" font-size="26.5" font-weight="normal" textLength="17.6" lengthAdjust="spacingAndGlyphs" transform="rotate(0.35 704.2 493.9)" stroke="#000" stroke-width="0.8" >D</text>
<rect x="732.5" y="485.1" width="12.6" height="5.2" rx="1.2" transform="rotate(0.35 705.9 493.9)"/>
<g transform="rotate(0.35 751.6 494.2)">
<path d="M359,0 L271,0 L271,505 L101,505 L101,568 C200,572 285,620 301,709 L359,709 Z" transform="translate(751.60 494.2) scale(0.02648 -0.02650)" stroke="#000" stroke-width="30" stroke-linejoin="round"/>
<text x="766.33" y="494.2" font-size="26.5" font-weight="normal" textLength="88.27" lengthAdjust="spacingAndGlyphs" stroke="#000" stroke-width="0.8">.59 mm</text>
</g>
</g>
</g>
</svg>
</body>
</html>
